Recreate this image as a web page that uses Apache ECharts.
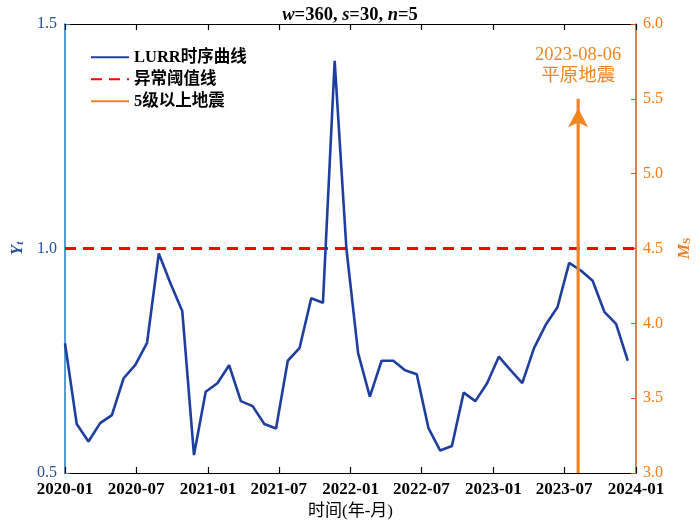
<!DOCTYPE html>
<html><head><meta charset="utf-8">
<script src="https://cdn.jsdelivr.net/npm/echarts@6/dist/echarts.min.js"></script>
<style>html,body{margin:0;padding:0;background:#fff}#c{width:700px;height:523px}</style>
</head><body><div id="c"></div>
<script>
// LURR sample dates (30-day step) and values
var dates = ['2020-01-01','2020-01-31','2020-03-01','2020-03-31','2020-04-30','2020-05-30','2020-06-29','2020-07-29','2020-08-28','2020-09-27','2020-10-27','2020-11-26','2020-12-26',
'2021-01-25','2021-02-24','2021-03-26','2021-04-25','2021-05-25','2021-06-24','2021-07-24','2021-08-23','2021-09-22','2021-10-22','2021-11-21','2021-12-21',
'2022-01-20','2022-02-19','2022-03-21','2022-04-20','2022-05-20','2022-06-19','2022-07-19','2022-08-18','2022-09-17','2022-10-17','2022-11-16','2022-12-16',
'2023-01-15','2023-02-14','2023-03-16','2023-04-15','2023-05-15','2023-06-14','2023-07-14','2023-08-13','2023-09-12','2023-10-12','2023-11-11','2023-12-11'];
var lurr = [0.789,0.609,0.570,0.611,0.629,0.711,0.741,0.790,0.989,0.922,0.861,0.540,0.681,
0.700,0.740,0.660,0.649,0.609,0.599,0.750,0.778,0.889,0.879,1.418,1.000,
0.767,0.670,0.750,0.750,0.729,0.720,0.600,0.550,0.560,0.679,0.660,0.700,
0.759,0.729,0.700,0.778,0.830,0.869,0.968,0.951,0.928,0.859,0.832,0.750];
var threshold = 1.0;
var xRange = ['2020-01-01','2024-01-01'];
var xTickLabels = ['2020-01','2020-07','2021-01','2021-07','2022-01','2022-07','2023-01','2023-07','2024-01'];
var quakeDate = '2023-08-06';
var quakeMag = 5.5;
var quakeName = '平原地震';
var seriesNames = ['LURR时序曲线','异常阈值线','5级以上地震'];

function ts(s){var p=s.split('-');return Date.UTC(+p[0],+p[1]-1,p[2]?+p[2]:1);}
var tickVals = xTickLabels.map(ts);
function fmt(v){var d=new Date(v);var m=d.getUTCMonth()+1;return d.getUTCFullYear()+'-'+(m<10?'0'+m:m);}

var serif = "'Liberation Serif','Noto Sans CJK SC',serif";
var chart = echarts.init(document.getElementById('c'));
chart.setOption({
  animation:false,
  title:{
    text:'{i|w}=360, {i|s}=30, {i|n}=5',
    left:'center', top:1,
    textStyle:{fontFamily:serif,fontSize:18.5,fontWeight:'bold',color:'#000',
      rich:{i:{fontFamily:serif,fontSize:18.5,fontWeight:'bold',fontStyle:'italic',color:'#000'}}}
  },
  legend:{
    orient:'vertical', left:85, top:44, itemWidth:38, itemHeight:14, itemGap:5.5,
    data:seriesNames,
    itemStyle:{opacity:0},
    textStyle:{fontFamily:serif,fontSize:16.5,fontWeight:'bold',color:'#000'}
  },
  grid:{left:65,right:64,top:24,bottom:50,containLabel:false,outerBoundsMode:'none'},
  xAxis:[{
    type:'value', min:ts(xRange[0]), max:ts(xRange[1]),
    name:'时间(年-月)', nameLocation:'middle', nameGap:29,
    nameTextStyle:{fontFamily:serif,fontSize:17,color:'#000'},
    axisLine:{lineStyle:{color:'#000',width:1.2}},
    axisTick:{inside:true,length:6,customValues:tickVals,lineStyle:{color:'#000',width:1.2}},
    axisLabel:{customValues:tickVals,formatter:fmt,fontFamily:serif,fontSize:17,fontWeight:'bold',color:'#000',margin:8,showMinLabel:true,showMaxLabel:true,hideOverlap:false},
    splitLine:{show:false}
  },{
    type:'value', position:'top', min:ts(xRange[0]), max:ts(xRange[1]),
    axisLine:{lineStyle:{color:'#000',width:1.2}},
    axisTick:{inside:true,length:6,customValues:tickVals,lineStyle:{color:'#000',width:1.2}},
    axisLabel:{show:false},
    splitLine:{show:false}
  }],
  yAxis:[{
    type:'value', min:0.5, max:1.5, interval:0.5,
    name:'{y|Y}{s|t}', nameLocation:'middle', nameGap:39, nameRotate:90,
    nameTextStyle:{rich:{
      y:{fontFamily:serif,fontSize:17,fontWeight:'bold',fontStyle:'italic',color:'#1f4ea3'},
      s:{fontFamily:serif,fontSize:11,fontWeight:'bold',fontStyle:'italic',color:'#1f4ea3',verticalAlign:'bottom',padding:[6,0,0,0]}}},
    axisLine:{show:true,lineStyle:{color:'#1a7bc8',width:1.5}},
    axisTick:{show:true,inside:true,length:5,lineStyle:{color:'#1a7bc8'}},
    axisLabel:{fontFamily:serif,fontSize:16,color:'#1f4ea3',margin:8,formatter:function(v){return v.toFixed(1);}},
    splitLine:{show:false}
  },{
    type:'value', min:3.0, max:6.0, interval:0.5, position:'right',
    name:'{y|M}{s|S}', nameLocation:'middle', nameGap:40, nameRotate:90,
    nameTextStyle:{rich:{
      y:{fontFamily:serif,fontSize:17,fontWeight:'bold',fontStyle:'italic',color:'#ee7d1d'},
      s:{fontFamily:serif,fontSize:11,fontWeight:'bold',color:'#ee7d1d',verticalAlign:'bottom',padding:[6,0,0,0]}}},
    axisLine:{show:true,lineStyle:{color:'#d95319',width:1.5}},
    axisTick:{show:true,inside:true,length:5,lineStyle:{color:'#d95319'}},
    axisLabel:{fontFamily:serif,fontSize:16,color:'#f07c1c',margin:7,formatter:function(v){return v.toFixed(1);}},
    splitLine:{show:false}
  }],
  series:[{
    name:seriesNames[0], type:'line', xAxisIndex:0, yAxisIndex:0,
    data:dates.map(function(d,i){return [ts(d),lurr[i]];}),
    symbol:'none', color:'#1f3f9e',
    lineStyle:{color:'#1f3f9e',width:2.6}, z:3
  },{
    name:seriesNames[1], type:'line', xAxisIndex:0, yAxisIndex:0,
    data:[[ts(xRange[0]),threshold],[ts(xRange[1]),threshold]],
    symbol:'none', color:'#ff0000',
    lineStyle:{color:'#ff0000',width:3,type:[11,7]}, z:2
  },{
    name:seriesNames[2], type:'line', xAxisIndex:0, yAxisIndex:1,
    symbol:'none', color:'#f28522',
    lineStyle:{color:'#f28522',width:3.2,cap:'butt'}, z:4,
    data:[[ts(quakeDate),3.0],{
      value:[ts(quakeDate),quakeMag], symbol:'arrow', symbolSize:[15,19], symbolOffset:[0,'50%'],
      itemStyle:{color:'#f28522'},
      label:{show:true,position:'top',distance:21,formatter:quakeDate+'\n'+quakeName,
        fontFamily:serif,fontSize:18.5,lineHeight:21.5,color:'#f28522',align:'center'}
    }]
  }]
});
</script></body></html>
